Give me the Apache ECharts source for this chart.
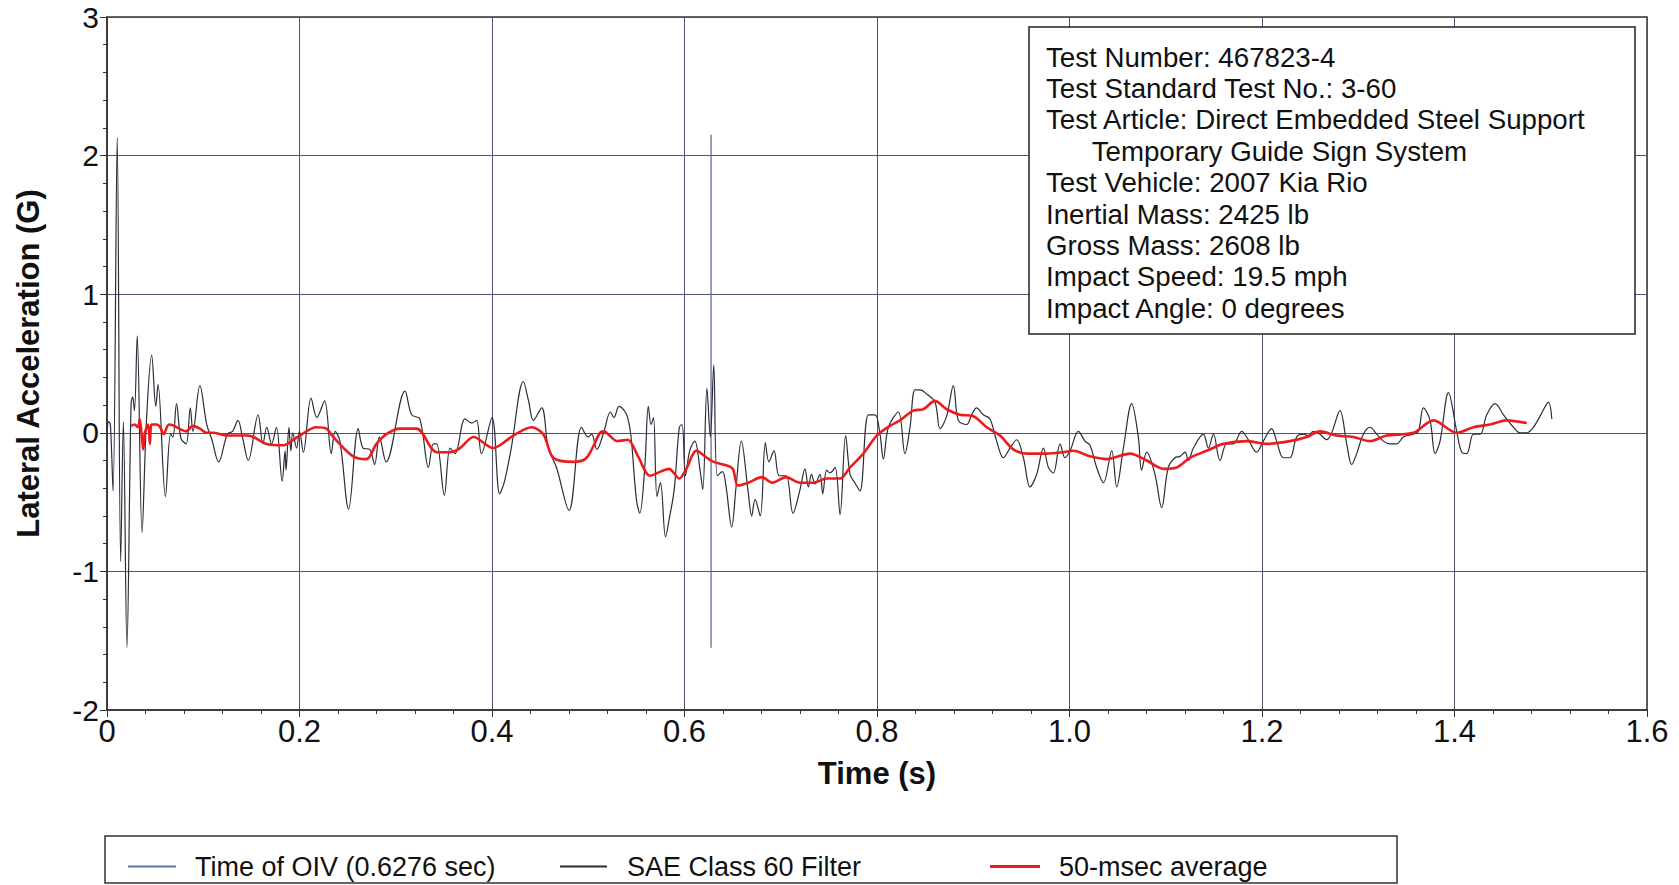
<!DOCTYPE html>
<html>
<head>
<meta charset="utf-8">
<script src="https://cdn.jsdelivr.net/npm/echarts@6/dist/echarts.min.js"></script>
<style>
  html, body { margin: 0; padding: 0; background: #fff; }
  #main { width: 1679px; height: 885px; }
</style>
</head>
<body>
<div id="main"></div>
<script>
'use strict'
// lateral acceleration vs time

// SAE Class 60 filtered trace (time s, accel G)
var sae_t = [0, 0.0017, 0.0035, 0.0063, 0.0106, 0.0142, 0.017, 0.0207, 0.025, 0.0267, 0.0285, 0.0314, 0.0364, 0.041, 0.0464, 0.0507, 0.053, 0.0607, 0.066, 0.0685, 0.0722, 0.0768, 0.0822, 0.0865, 0.0893, 0.0965, 0.1036, 0.109, 0.116, 0.125, 0.1305, 0.136, 0.141,
    0.1467, 0.157, 0.162, 0.166, 0.171, 0.176, 0.182, 0.185, 0.186, 0.189, 0.191, 0.193, 0.197, 0.200, 0.204, 0.212, 0.218, 0.226, 0.233, 0.237, 0.242, 0.251, 0.261, 0.266, 0.273, 0.278, 0.283, 0.290,
    0.3096, 0.3165, 0.325, 0.334, 0.339, 0.3425, 0.3505, 0.3564, 0.3616, 0.372, 0.379, 0.384, 0.389, 0.400, 0.408, 0.413, 0.420, 0.4326, 0.438, 0.443, 0.4516, 0.4585, 0.467, 0.480, 0.493, 0.500, 0.5035, 0.509,
    0.516, 0.523, 0.5267, 0.532, 0.5374, 0.541, 0.5445, 0.550, 0.5535, 0.5589, 0.5624, 0.5653, 0.5678, 0.5714, 0.575, 0.5803, 0.5839, 0.5893, 0.5946, 0.5975, 0.601, 0.6054, 0.6107, 0.616, 0.619, 0.6233, 0.6268, 0.6304, 0.634, 0.6394, 0.643, 0.649, 0.6537, 0.659, 0.6662, 0.6698, 0.6733, 0.6787, 0.684, 0.6877, 0.693, 0.6984, 0.7055, 0.7127, 0.72,
    0.7252, 0.7287, 0.732, 0.7356, 0.7408, 0.7436, 0.7477, 0.7512, 0.7564, 0.7616, 0.7674, 0.772, 0.777, 0.7823, 0.791, 0.798, 0.8031, 0.8066, 0.8118, 0.8222, 0.829, 0.8343, 0.8395, 0.8447, 0.8516, 0.8603, 0.8655, 0.8724, 0.8793, 0.8845, 0.8931, 0.8983, 0.9035, 0.9104, 0.9174, 0.9243, 0.9313, 0.9382, 0.9451, 0.9521, 0.959, 0.9659, 0.9729, 0.9781, 0.9832, 0.9902, 0.9953, 1.0006, 1.0092, 1.0161, 1.0213, 1.0282, 1.0352, 1.0439, 1.049, 1.056, 1.0646, 1.0715, 1.0749, 1.0802, 1.0888, 1.0957, 1.1026, 1.1096, 1.1148,
    1.12, 1.1235, 1.1287, 1.139, 1.1443, 1.1495, 1.1564, 1.1633, 1.1702, 1.1789, 1.1858, 1.1945, 1.2014, 1.21, 1.2152, 1.2221, 1.229, 1.236, 1.2429, 1.2481, 1.2533, 1.2602, 1.2672, 1.2724, 1.281, 1.288, 1.2932, 1.2984, 1.3053, 1.3122, 1.3192, 1.3261, 1.333, 1.34, 1.3469, 1.3573, 1.3625, 1.3677, 1.3746, 1.3798, 1.385, 1.3937, 1.4023, 1.4075, 1.4127, 1.4197, 1.4266, 1.4335, 1.4422, 1.4509, 1.4612, 1.4682, 1.4751, 1.482, 1.4889, 1.4976, 1.5011];
var sae_g = [0, 0.08, 0.06, -0.42, 2.13, -0.93, 0.08, -1.55, 0.21, 0.26, 0.16, 0.70, -0.72, 0.09, 0.56, 0.19, 0.35, -0.46, -0.01, -0.03, 0.21, -0.04, -0.08, 0.18, 0.01, 0.34, 0.06, -0.05, -0.21, -0.01, 0.01, 0.09, -0.04,
    -0.20, 0.13, -0.08, 0.04, -0.08, 0.04, -0.35, -0.13, -0.27, 0.04, -0.13, 0.00, -0.11, 0.01, -0.14, 0.25, 0.11, 0.23, -0.15, 0.01, -0.06, -0.55, 0.03, -0.11, -0.12, -0.23, -0.03, -0.21,
    0.30, 0.13, 0.10, -0.25, -0.08, -0.08, -0.45, -0.11, -0.15, 0.10, 0.07, 0.09, -0.15, 0.11, -0.44, -0.35, -0.11, 0.37, 0.23, 0.09, 0.18, -0.11, -0.25, -0.56, 0.04, -0.03, -0.01, -0.12,
    0.00, 0.15, 0.11, 0.19, 0.16, 0.11, -0.03, -0.48, -0.58, -0.23, 0.19, 0.06, 0.11, -0.46, -0.36, -0.75, -0.63, -0.41, 0.04, 0.06, -0.31, -0.13, -0.06, -0.26, -0.41, 0.32, -0.03, 0.49, -0.31, -0.28, -0.38, -0.68, -0.38, -0.06, -0.43, -0.60, -0.48, -0.60, -0.07, -0.21, -0.13, -0.31, -0.31, -0.58, -0.41,
    -0.26, -0.39, -0.30, -0.37, -0.30, -0.44, -0.27, -0.29, -0.25, -0.59, -0.02, -0.30, -0.36, -0.42, 0.13, 0.13, -0.01, -0.19, 0.04, 0.15, -0.15, 0.04, 0.31, 0.31, 0.28, 0.22, 0.03, 0.12, 0.34, 0.09, 0.06, 0.13, 0.18, 0.13, 0.10, -0.06, -0.18, -0.11, -0.05, -0.18, -0.39, -0.30, -0.11, -0.25, -0.29, -0.08, -0.18, -0.13, 0.01, -0.06, -0.09, -0.25, -0.36, -0.13, -0.39, -0.11, 0.21, -0.03, -0.27, -0.14, -0.30, -0.54, -0.25, -0.18, -0.17,
    -0.14, -0.20, -0.11, -0.01, -0.11, -0.01, -0.20, -0.08, -0.08, 0.01, -0.05, -0.14, -0.06, 0.03, -0.06, -0.18, -0.18, -0.03, -0.01, -0.02, 0.01, -0.01, -0.05, 0.00, 0.16, -0.08, -0.23, -0.15, -0.01, 0.04, -0.01, -0.06, -0.08, -0.08, -0.03, -0.01, 0.01, 0.18, 0.09, -0.15, -0.06, 0.29, 0.01, -0.14, -0.15, -0.01, -0.01, 0.13, 0.21, 0.13, 0.04, 0.00, 0.00, 0.04, 0.12, 0.22, 0.10];

// 50-msec moving average
var avg_t = [0.025, 0.0287, 0.0322, 0.034, 0.0358, 0.0376, 0.0394, 0.0428, 0.0446, 0.0464, 0.0518, 0.0553, 0.0589, 0.0643, 0.0697, 0.075, 0.0822, 0.0893, 0.0965, 0.1036, 0.1108, 0.118, 0.125, 0.1346,
    0.145, 0.152, 0.166, 0.183, 0.200, 0.2176, 0.228, 0.235, 0.2557, 0.2696, 0.28, 0.2903, 0.304,
    0.3217, 0.3425, 0.3564, 0.3668, 0.3806, 0.4014, 0.4222, 0.4412, 0.4533, 0.4637, 0.4845, 0.4983, 0.5122,
    0.516, 0.530, 0.541, 0.5517, 0.5642, 0.575, 0.5839, 0.5946, 0.6018, 0.6125, 0.6233, 0.6304, 0.6411, 0.6501, 0.6555, 0.6662, 0.6805, 0.6912, 0.7055, 0.7199,
    0.7339, 0.7477, 0.7616, 0.772, 0.7858, 0.7997, 0.8135, 0.8239, 0.8377, 0.8481, 0.8602, 0.8724, 0.8862, 0.9001, 0.9139, 0.9278, 0.9416, 0.9555, 0.9763, 0.9936, 1.004, 1.0213, 1.0386, 1.0629, 1.0802, 1.0975, 1.1113, 1.1252,
    1.1425, 1.1598, 1.1841, 1.2048, 1.229, 1.2464, 1.2602, 1.2775, 1.2949, 1.3122, 1.3295, 1.3573, 1.3781, 1.4023, 1.4197, 1.4369, 1.4543, 1.4751];
var avg_g = [0.05, 0.06, 0.04, 0.10, 0.00, -0.12, 0.00, 0.06, -0.08, 0.06, 0.06, 0.04, -0.01, 0.06, 0.05, 0.03, 0.01, 0.05, 0.03, 0.00, 0.00, -0.01, -0.02, -0.02,
    -0.02, -0.03, -0.08, -0.09, -0.02, 0.04, 0.03, -0.03, -0.17, -0.19, -0.08, -0.01, 0.03,
    0.03, -0.14, -0.14, -0.11, -0.03, -0.11, -0.02, 0.04, -0.01, -0.18, -0.21, -0.18, 0.00,
    0.01, -0.06, -0.05, -0.17, -0.31, -0.28, -0.26, -0.33, -0.26, -0.13, -0.18, -0.21, -0.23, -0.26, -0.38, -0.36, -0.32, -0.36, -0.32, -0.36,
    -0.36, -0.33, -0.33, -0.25, -0.15, -0.02, 0.05, 0.09, 0.16, 0.17, 0.23, 0.17, 0.13, 0.12, 0.04, -0.02, -0.12, -0.15, -0.15, -0.14, -0.13, -0.17, -0.19, -0.15, -0.20, -0.26, -0.25, -0.18,
    -0.13, -0.08, -0.06, -0.08, -0.06, -0.03, 0.01, -0.02, -0.03, -0.06, -0.02, 0.00, 0.09, 0.00, 0.04, 0.06, 0.09, 0.07];

// time of OIV marker
var oiv_t = [0.6276, 0.6276];
var oiv_g = [-1.55, 2.15];

var info_lines = [
    'Test Number: 467823-4',
    'Test Standard Test No.: 3-60',
    'Test Article: Direct Embedded Steel Support',
    '      Temporary Guide Sign System',
    'Test Vehicle: 2007 Kia Rio',
    'Inertial Mass: 2425 lb',
    'Gross Mass: 2608 lb',
    'Impact Speed: 19.5 mph',
    'Impact Angle: 0 degrees'
];

function pairs(ts, vs) {
    return ts.map(function (t, i) { return [t, vs[i]]; });
}

var font = "'Liberation Sans', Arial, sans-serif";
var gridColor = '#4d5272';

var infoText = info_lines.map(function (s, i) {
    return {
        type: 'text',
        left: 1046,
        top: 43 + i * 31.4,
        z: 101,
        style: { text: s, font: '27.7px ' + font, fill: '#111' }
    };
});

var option = {
    animation: false,
    backgroundColor: '#fff',
    textStyle: { fontFamily: font },
    grid: {
        left: 107,
        top: 17,
        width: 1540,
        height: 693,
        show: true,
        borderColor: '#333',
        borderWidth: 1.5
    },
    legend: [
        {
            data: ['Time of OIV (0.6276 sec)'],
            left: 123, top: 848,
            icon: 'rect', itemWidth: 48, itemHeight: 2,
            textStyle: { fontSize: 27, color: '#111', padding: [0, 0, 0, 14] }
        },
        {
            data: ['SAE Class 60 Filter'],
            left: 555, top: 848,
            icon: 'rect', itemWidth: 47, itemHeight: 2,
            textStyle: { fontSize: 27, color: '#111', padding: [0, 0, 0, 15] }
        },
        {
            data: ['50-msec average'],
            left: 985, top: 848,
            icon: 'rect', itemWidth: 50, itemHeight: 3,
            textStyle: { fontSize: 27, color: '#111', padding: [0, 0, 0, 14] }
        }
    ],
    xAxis: {
        type: 'value',
        min: 0,
        max: 1.6,
        interval: 0.2,
        name: 'Time (s)',
        nameLocation: 'middle',
        nameGap: 48,
        nameTextStyle: { fontSize: 31, fontWeight: 'bold', color: '#111' },
        axisLine: { onZero: false, lineStyle: { color: '#333', width: 1.5 } },
        axisTick: { length: 7, lineStyle: { color: '#333' } },
        minorTick: { show: true, splitNumber: 5, length: 4, lineStyle: { color: '#333' } },
        splitLine: { show: true, lineStyle: { color: gridColor, width: 1 } },
        axisLabel: {
            fontSize: 31, color: '#111', margin: 6,
            formatter: function (v) { return v === 0 ? '0' : v.toFixed(1); }
        }
    },
    yAxis: {
        type: 'value',
        min: -2,
        max: 3,
        interval: 1,
        name: 'Lateral Acceleration (G)',
        nameLocation: 'middle',
        nameGap: 63,
        nameTextStyle: { fontSize: 31, fontWeight: 'bold', color: '#111' },
        axisLine: { lineStyle: { color: '#333', width: 1.5 } },
        axisTick: { length: 7, lineStyle: { color: '#333' } },
        minorTick: { show: true, splitNumber: 5, length: 4, lineStyle: { color: '#333' } },
        splitLine: { show: true, lineStyle: { color: gridColor, width: 1 } },
        axisLabel: { fontSize: 30, lineHeight: 30, color: '#111', margin: 8 }
    },
    series: [
        {
            name: 'Time of OIV (0.6276 sec)',
            type: 'line',
            data: pairs(oiv_t, oiv_g),
            symbol: 'none',
            color: '#5b78a6',
            lineStyle: { width: 1.2, color: '#4f6590' },
            z: 3
        },
        {
            name: 'SAE Class 60 Filter',
            type: 'line',
            data: pairs(sae_t, sae_g),
            symbol: 'none',
            smooth: 0.35,
            color: '#2b2d3a',
            lineStyle: { width: 1.2 },
            z: 4
        },
        {
            name: '50-msec average',
            type: 'line',
            data: pairs(avg_t, avg_g),
            symbol: 'none',
            smooth: 0.3,
            color: '#ec1c1c',
            lineStyle: { width: 2.6 },
            z: 5
        }
    ],
    graphic: [
        {
            type: 'rect',
            z: 100,
            shape: { x: 1029, y: 27, width: 606, height: 307 },
            style: { fill: '#fff', stroke: '#222', lineWidth: 1.5 }
        },
        {
            type: 'rect',
            z: 100,
            shape: { x: 105, y: 836, width: 1292, height: 47 },
            style: { fill: 'none', stroke: '#333', lineWidth: 1.5 }
        }
    ].concat(infoText)
};

var myChart = echarts.init(document.getElementById('main'), null, { renderer: 'svg' });
myChart.setOption(option);
</script>
</body>
</html>
